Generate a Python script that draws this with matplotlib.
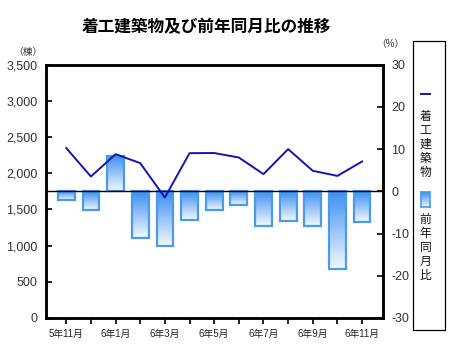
import numpy as np
import matplotlib.pyplot as plt
from matplotlib.patches import Rectangle
from matplotlib.lines import Line2D

plt.rcParams['font.family'] = ['Liberation Sans', 'Noto Sans CJK JP']
plt.rcParams['axes.unicode_minus'] = False

months = ['5年11月', '5年12月', '6年1月', '6年2月', '6年3月', '6年4月', '6年5月',
          '6年6月', '6年7月', '6年8月', '6年9月', '6年10月', '6年11月']
# 着工建築物 (棟)
buildings = [2348, 1955, 2264, 2140, 1665, 2278, 2280, 2218, 1988, 2334, 2034, 1964, 2163]
# 前年同月比 (%)
yoy = [-2.1, -4.4, 8.3, -11.0, -13.0, -6.8, -4.5, -3.3, -8.3, -7.0, -8.3, -18.5, -7.3]

fig = plt.figure(figsize=(4.7, 3.58), dpi=100)
ax = fig.add_axes([0.098, 0.112, 0.717, 0.707])
ax2 = ax.twinx()
ax.set_zorder(ax2.get_zorder() + 1)
ax.patch.set_visible(False)

x = np.arange(len(months))
w = 0.68
edge = '#4a9bea'
grad = np.linspace(0, 1, 100).reshape(-1, 1)
cmap = plt.matplotlib.colors.LinearSegmentedColormap.from_list('g', ['#3b8ef2', '#f2f8ff'])
for xi, v in zip(x, yoy):
    lo, hi = min(0, v), max(0, v)
    ax2.imshow(grad, extent=[xi - w/2, xi + w/2, lo, hi], origin='upper',
               cmap=cmap, aspect='auto', zorder=1)
ax2.bar(x, yoy, width=w, facecolor='none', edgecolor=edge, linewidth=1.6, zorder=2)
ax2.axhline(0, color='black', linewidth=1.0, zorder=3)

ax.plot(x, buildings, color='#1414b4', linewidth=1.4, zorder=5)

ax.set_xlim(-0.82, 12.85)
ax.set_ylim(0, 3500)
ax2.set_ylim(-30, 30)
ax.set_yticks(np.arange(0, 3501, 500))
ax.set_yticklabels([f'{v:,}' for v in range(0, 3501, 500)])
ax2.set_yticks(np.arange(-30, 31, 10))
ax2.set_yticklabels([str(v) for v in range(-30, 31, 10)])
ax.set_xticks(x)
ax.set_xticklabels([m if i % 2 == 0 else '' for i, m in enumerate(months)])

for a in (ax, ax2):
    for s in a.spines.values():
        s.set_linewidth(1.8)
ax.tick_params(axis='y', direction='in', length=4, width=1.2, labelsize=9, pad=6, labelcolor='#333333')
ax2.tick_params(axis='y', direction='in', length=4, width=1.2, labelsize=9, pad=6, labelcolor='#333333')
ax.tick_params(axis='x', direction='out', length=4, width=1.2, labelsize=7, pad=4, labelcolor='#222222')

fig.text(0.44, 0.925, '着工建築物及び前年同月比の推移', ha='center', va='center',
         fontsize=12, fontweight='bold')
fig.text(0.06, 0.856, '（棟）', ha='center', va='center', fontsize=7, color='#333333')
fig.text(0.83, 0.876, '（%）', ha='center', va='center', fontsize=7, color='#333333')

# legend box
fig.patches.append(Rectangle((413/470, 1 - 330/358), 32/470, 289/358, transform=fig.transFigure,
                             facecolor='none', edgecolor='black', linewidth=0.9))
fig.lines.append(Line2D([421/470, 430/470], [1 - 94/358] * 2, transform=fig.transFigure,
                        color='#1414b4', linewidth=1.4))
fig.text(425.5/470, 1 - 111/358, '\n'.join('着工建築物'), ha='center', va='top',
         fontsize=8.5, linespacing=1.22, color='#111111')
lax = fig.add_axes([421/470, 1 - 207/358, 9/470, 15/358])
lax.imshow(grad, cmap=cmap, aspect='auto', origin='upper')
lax.set_xticks([])
lax.set_yticks([])
for s in lax.spines.values():
    s.set_edgecolor(edge)
    s.set_linewidth(1.2)
fig.text(425.5/470, 1 - 214/358, '\n'.join('前年同月比'), ha='center', va='top',
         fontsize=8.5, linespacing=1.22, color='#111111')

fig.savefig('out.png', dpi=100)
